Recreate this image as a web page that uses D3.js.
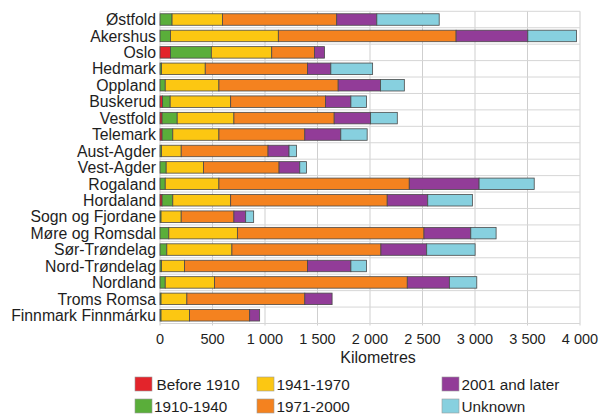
<!DOCTYPE html>
<html>
<head>
<meta charset="utf-8">
<script src="https://cdn.jsdelivr.net/npm/d3@7"></script>
<style>
  html, body { margin: 0; padding: 0; background: #fff; }
  svg { display: block; font-family: "Liberation Sans", Arial, sans-serif; }
</style>
</head>
<body>
<svg id="chart" width="600" height="414"></svg>
<script>
const regions = ["Østfold","Akershus","Oslo","Hedmark","Oppland","Buskerud","Vestfold","Telemark","Aust-Agder","Vest-Agder","Rogaland","Hordaland","Sogn og Fjordane","Møre og Romsdal","Sør-Trøndelag","Nord-Trøndelag","Nordland","Troms Romsa","Finnmark Finnmárku"];
const seriesNames = ["Before 1910","1910-1940","1941-1970","1971-2000","2001 and later","Unknown"];
const before1910 = [0, 0, 100, 0, 0, 25, 20, 20, 0, 0, 0, 20, 0, 0, 0, 0, 0, 0, 0];
const p1910_1940 = [115, 100, 389, 15, 50, 72, 144, 102, 15, 59, 50, 102, 10, 84, 65, 15, 50, 10, 10];
const p1941_1970 = [480, 1027, 575, 416, 511, 576, 540, 439, 187, 356, 511, 551, 192, 653, 620, 219, 470, 246, 271];
const p1971_2000 = [1088, 1693, 407, 974, 1136, 903, 955, 818, 827, 719, 1813, 1491, 502, 1777, 1419, 1171, 1835, 1123, 573];
const p2001later = [382, 683, 96, 222, 404, 242, 347, 343, 200, 197, 665, 386, 112, 446, 436, 413, 401, 260, 95];
const unknown    = [594, 464, 0, 398, 226, 149, 254, 251, 71, 64, 525, 425, 76, 241, 461, 149, 261, 0, 0];
const xTicks = [0, 500, 1000, 1500, 2000, 2500, 3000, 3500, 4000];
const colors = ["#e3242b", "#5aae3a", "#fcc712", "#f4821f", "#923c98", "#87d0df"];

const rows = regions.map((r, i) => ({
  region: r,
  "Before 1910": before1910[i],
  "1910-1940": p1910_1940[i],
  "1941-1970": p1941_1970[i],
  "1971-2000": p1971_2000[i],
  "2001 and later": p2001later[i],
  "Unknown": unknown[i]
}));

const svg = d3.select("#chart");
const pLeft = 160, pRight = 580, pTop = 11.3, pBottom = 323.5;

const x = d3.scaleLinear().domain([0, 4000]).range([pLeft, pRight]);
const y = d3.scaleBand().domain(regions).range([pTop, pBottom]).paddingInner(0.3).paddingOuter(0.15);
const yGrid = d3.scaleBand().domain(regions).range([pTop, pBottom]);
const color = d3.scaleOrdinal().domain(seriesNames).range(colors);

// gridlines
const g = svg.append("g");
g.selectAll("line.v").data(xTicks).join("line")
  .attr("x1", d => x(d)).attr("x2", d => x(d))
  .attr("y1", pTop).attr("y2", pBottom + 2)
  .attr("stroke", "#cfcfcf").attr("stroke-width", 1);
const hLines = regions.map(r => yGrid(r)).concat([pBottom]);
g.selectAll("line.h").data(hLines).join("line")
  .attr("x1", pLeft).attr("x2", pRight)
  .attr("y1", d => d).attr("y2", d => d)
  .attr("stroke", "#d6d6d6").attr("stroke-width", 1);

// bars
const stack = d3.stack().keys(seriesNames)(rows);
svg.append("g").selectAll("g").data(stack).join("g")
  .attr("fill", d => color(d.key))
  .selectAll("rect").data(d => d.filter(s => s[1] - s[0] > 0)).join("rect")
  .attr("x", d => x(d[0]))
  .attr("y", d => y(d.data.region))
  .attr("width", d => x(d[1]) - x(d[0]))
  .attr("height", y.bandwidth())
  .attr("stroke", "#4a4a4a").attr("stroke-width", 0.8);

// category labels
svg.append("g").selectAll("text").data(regions).join("text")
  .attr("x", 156)
  .attr("y", d => y(d) + y.bandwidth() / 2)
  .attr("dy", "0.36em")
  .attr("text-anchor", "end")
  .attr("font-size", 15.8)
  .attr("fill", "#1e1e1e")
  .text(d => d);

// x axis tick labels
const fmt = d3.formatLocale({decimal: ".", thousands: " ", grouping: [3], currency: ["", ""]}).format(",");
svg.append("g").selectAll("text").data(xTicks).join("text")
  .attr("x", d => x(d))
  .attr("y", 344)
  .attr("text-anchor", "middle")
  .attr("font-size", 14.5)
  .attr("fill", "#1e1e1e")
  .text(d => fmt(d));

svg.append("text")
  .attr("x", 378).attr("y", 362.5)
  .attr("text-anchor", "middle")
  .attr("font-size", 16)
  .attr("fill", "#1e1e1e")
  .text("Kilometres");

// legend
const legendPos = [
  {sx: 135, tx: 156.5, y: 377},
  {sx: 135, tx: 154, y: 399},
  {sx: 257, tx: 276.5, y: 377},
  {sx: 257, tx: 276.5, y: 399},
  {sx: 442, tx: 461.5, y: 377},
  {sx: 442, tx: 461.5, y: 399}
];
const lg = svg.append("g").selectAll("g").data(seriesNames).join("g");
lg.append("rect")
  .attr("x", (d, i) => legendPos[i].sx)
  .attr("y", (d, i) => legendPos[i].y)
  .attr("width", 17).attr("height", 14)
  .attr("fill", d => color(d))
  .attr("stroke", "#9a9a9a").attr("stroke-width", 0.6);
lg.append("text")
  .attr("x", (d, i) => legendPos[i].tx)
  .attr("y", (d, i) => legendPos[i].y + 12.5)
  .attr("font-size", 15.3)
  .attr("fill", "#1e1e1e")
  .text(d => d);
</script>
</body>
</html>
